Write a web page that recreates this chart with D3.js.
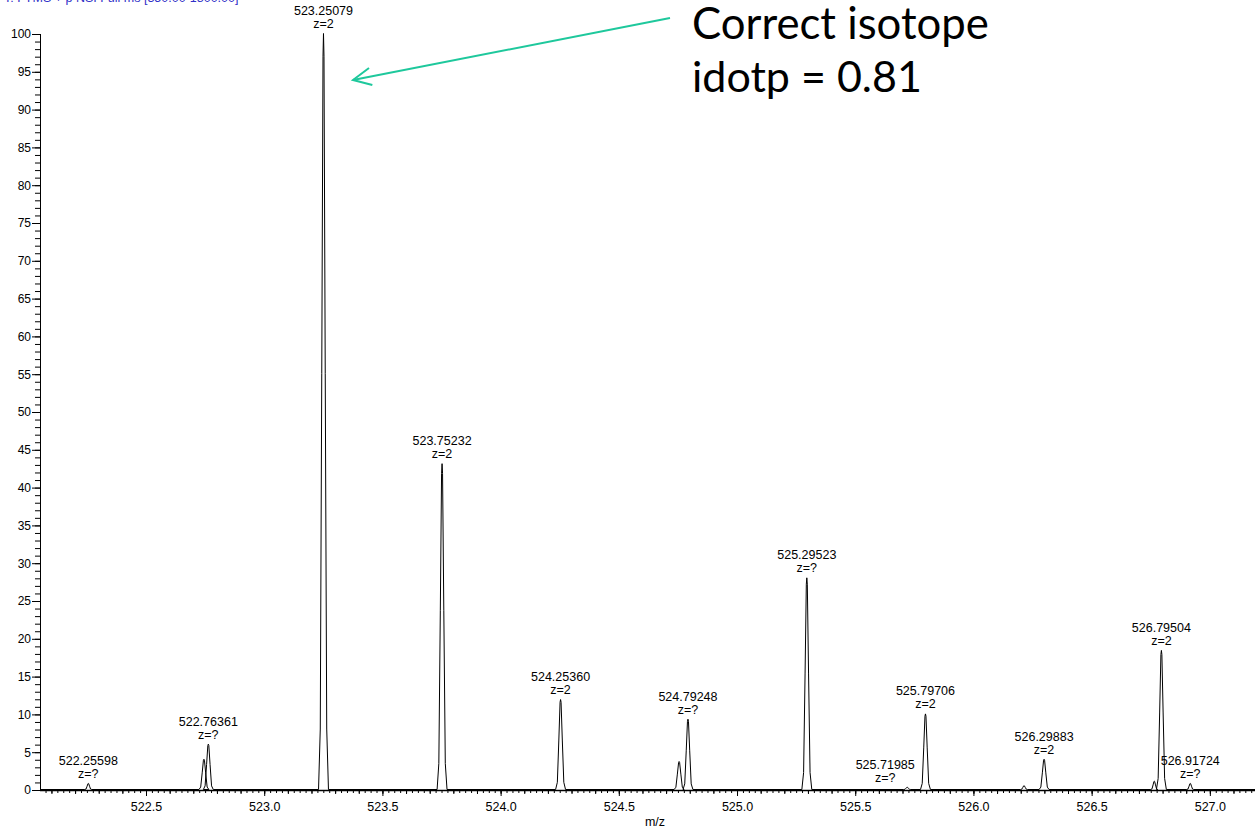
<!DOCTYPE html>
<html>
<head>
<meta charset="utf-8">
<script src="https://cdn.jsdelivr.net/npm/d3@7"></script>
<style>
  html, body { margin: 0; padding: 0; background: #fff; }
  svg { display: block; }
</style>
</head>
<body>
<svg id="chart" width="1255" height="830"></svg>
<script>
// ---- data ----
const peakMz        = [522.25598, 522.745, 522.76361, 523.25079, 523.75232, 524.25360, 524.755, 524.79248, 525.29523, 525.71985, 525.79706, 526.214, 526.29883, 526.765, 526.79504, 526.91724];
const peakIntensity = [0.8,       4.0,     6.0,       100,       43.1,      11.9,      3.7,     9.3,       28.0,      0.3,       10.0,      0.5,     4.0,       1.1,     18.4,      0.8];
const peakLabel     = ["522.25598", null, "522.76361", "523.25079", "523.75232", "524.25360", null, "524.79248", "525.29523", "525.71985", "525.79706", null, "526.29883", null, "526.79504", "526.91724"];
const peakCharge    = ["z=?", null, "z=?", "z=2", "z=2", "z=2", null, "z=?", "z=?", "z=?", "z=2", null, "z=2", null, "z=2", "z=?"];
const xTickValues   = [522.5, 523.0, 523.5, 524.0, 524.5, 525.0, 525.5, 526.0, 526.5, 527.0];
const yTickValues   = [0, 5, 10, 15, 20, 25, 30, 35, 40, 45, 50, 55, 60, 65, 70, 75, 80, 85, 90, 95, 100];
const headerText    = "T: FTMS + p NSI Full ms [350.00-1800.00]";
const noteLines     = ["Correct isotope", "idotp = 0.81"];
const xTitle        = "m/z";

(function () {
// ---- layout ----
const svg = d3.select("#chart");
const W = 1255, H = 830;
const pL = 40, pR = 1255, pT = 34, pB = 790;
const x = d3.scaleLinear().domain([522.0516, 527.191]).range([pL, pR]);
const y = d3.scaleLinear().domain([0, 100]).range([pB, pT]);
const tickFont = "'Liberation Sans', Arial, sans-serif";
const fs = 12.5;

svg.append("rect").attr("width", W).attr("height", H).attr("fill", "#fff");

// header (clipped at top, as in the source screenshot)
svg.append("text").attr("x", 4).attr("y", 2)
  .attr("font-family", tickFont).attr("font-size", fs).attr("fill", "#3030c8")
  .text(headerText);

// ---- axes ----
const yMinor = d3.range(0, 101, 1);
svg.append("g").attr("transform", `translate(${pL},0)`)
  .call(d3.axisLeft(y).tickValues(yMinor).tickSize(5).tickFormat(""))
  .call(g => g.select(".domain").remove())
  .selectAll("line").attr("stroke", "#000");
svg.append("g").attr("transform", `translate(${pL},0)`)
  .call(d3.axisLeft(y).tickValues(yTickValues).tickSize(8).tickPadding(1).tickFormat(d3.format("d")))
  .call(g => g.select(".domain").attr("d", `M0.5,${pT}V${pB}`).attr("stroke", "#000"))
  .call(g => g.selectAll("text").attr("font-family", tickFont).attr("font-size", 12).attr("fill", "#000"))
  .selectAll("line").attr("stroke", "#000");

const xMinor = d3.range(522.075, 527.2, 0.025);
svg.append("g").attr("transform", `translate(0,${pB})`)
  .call(d3.axisBottom(x).tickValues(xMinor).tickSize(3).tickFormat(""))
  .call(g => g.select(".domain").remove())
  .selectAll("line").attr("stroke", "#000");
svg.append("g").attr("transform", `translate(0,${pB})`)
  .call(d3.axisBottom(x).tickValues(d3.range(522.1, 527.2, 0.1)).tickSize(4).tickFormat(""))
  .call(g => g.select(".domain").remove())
  .selectAll("line").attr("stroke", "#000");
svg.append("g").attr("transform", `translate(0,${pB})`)
  .call(d3.axisBottom(x).tickValues(xTickValues).tickSize(6).tickPadding(6).tickFormat(d3.format(".1f")))
  .call(g => g.select(".domain").attr("d", `M${pL},0.5H${pR}`).attr("stroke", "#000").attr("stroke-width", 1.6))
  .call(g => g.selectAll("text").attr("font-family", tickFont).attr("font-size", fs).attr("fill", "#000"))
  .selectAll("line").attr("stroke", "#000");

svg.append("text").attr("x", 655).attr("y", 826).attr("text-anchor", "middle")
  .attr("font-family", tickFont).attr("font-size", fs).text(xTitle);

// ---- spectrum trace ----
const halfWidth = 0.021; // m/z
const shape = [[-1, 0], [-0.65, 0.08], [-0.35, 0.55], [-0.1, 0.97], [0, 1], [0.1, 0.97], [0.35, 0.55], [0.65, 0.08], [1, 0]];
const peaks = peakMz.map((m, i) => ({ m, h: peakIntensity[i], label: peakLabel[i], z: peakCharge[i] }))
  .sort((a, b) => a.m - b.m);
const pts = [[x.domain()[0], 0]];
peaks.forEach(p => {
  const hw = p.h < 2 ? halfWidth * 0.7 : halfWidth;
  shape.forEach(([dx, f]) => pts.push([p.m + dx * hw, p.h * f]));
});
pts.push([x.domain()[1], 0]);
const line = d3.line().x(d => x(d[0])).y(d => y(d[1]) - 0.5);
svg.append("path").attr("d", line(pts)).attr("fill", "none")
  .attr("stroke", "#000").attr("stroke-width", 1).attr("stroke-linejoin", "round");

// ---- peak annotations ----
const labelShift = { "525.71985": -22 };
const ann = svg.append("g").attr("font-family", tickFont).attr("font-size", fs)
  .attr("text-anchor", "middle").attr("fill", "#000");
peaks.filter(p => p.label).forEach(p => {
  const cx = x(p.m) + (labelShift[p.label] || 0);
  const ty = y(p.h);
  ann.append("text").attr("x", cx).attr("y", ty - 19).text(p.label);
  ann.append("text").attr("x", cx).attr("y", ty - 6).text(p.z);
});

// ---- callout ----
const teal = "#1ec89c";
const arrowFrom = [670, 18], arrowTo = [353, 80];
svg.append("line").attr("x1", arrowFrom[0]).attr("y1", arrowFrom[1])
  .attr("x2", arrowTo[0]).attr("y2", arrowTo[1])
  .attr("stroke", teal).attr("stroke-width", 2);
const ang = Math.atan2(arrowFrom[1] - arrowTo[1], arrowFrom[0] - arrowTo[0]);
const headLen = 20, spread = 0.45;
const headPath = d3.path();
headPath.moveTo(arrowTo[0] + headLen * Math.cos(ang - spread), arrowTo[1] + headLen * Math.sin(ang - spread));
headPath.lineTo(arrowTo[0], arrowTo[1]);
headPath.lineTo(arrowTo[0] + headLen * Math.cos(ang + spread), arrowTo[1] + headLen * Math.sin(ang + spread));
svg.append("path").attr("d", headPath.toString()).attr("fill", "none")
  .attr("stroke", teal).attr("stroke-width", 2).attr("stroke-linejoin", "miter");

const note = svg.append("g").attr("font-family", "Lato, 'Open Sans', sans-serif").attr("font-size", 40).attr("fill", "#000");
const targetW = [297, 230];
noteLines.forEach((t, i) => {
  const el = note.append("text").attr("x", 692).attr("y", 39 + i * 53).text(t);
  const w = el.node().getComputedTextLength();
  el.attr("font-size", 40 * targetW[i] / w);
});
})();
</script>
</body>
</html>
